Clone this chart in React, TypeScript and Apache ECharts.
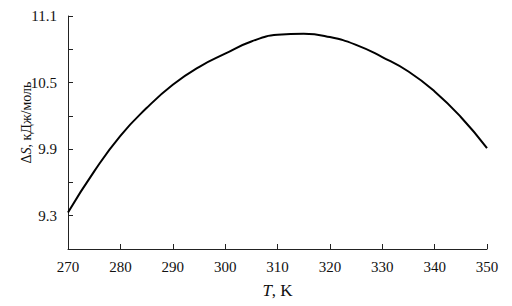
import React, { useEffect, useRef } from "react";
import * as echarts from "echarts";

const temperatures = [270, 275, 280, 285, 290, 295, 300, 305, 310, 315, 320, 325, 330, 335, 340, 345, 350];
const entropyValues = [9.33, 9.70, 10.02, 10.27, 10.48, 10.64, 10.76, 10.87, 10.93, 10.94, 10.91, 10.84, 10.73, 10.60, 10.42, 10.19, 9.91];
const yMin = 9.0;
const yMax = 11.1;
const yStep = 0.3;

export default function App() {
  const ref = useRef<HTMLDivElement>(null);
  useEffect(() => {
    if (!ref.current) return;
    const chart = echarts.init(ref.current, null, { renderer: "svg" });
    const font = "'Liberation Serif', 'Times New Roman', serif";
    chart.setOption({
      animation: false,
      backgroundColor: "#fff",
      grid: { left: 68, right: 25, top: 16, bottom: 57 },
      xAxis: {
        type: "value",
        min: 270,
        max: 350,
        interval: 10,
        name: "{i|T}, K",
        nameLocation: "middle",
        nameGap: 33,
        nameMoveOverlap: false,
        nameTextStyle: {
          fontFamily: font,
          fontSize: 17,
          color: "#111",
          rich: { i: { fontFamily: font, fontSize: 17, fontStyle: "italic", color: "#111" } },
        },
        axisLine: { lineStyle: { color: "#222", width: 1 } },
        axisTick: { inside: true, length: 5, lineStyle: { color: "#222" } },
        axisLabel: { fontFamily: font, fontSize: 15, color: "#111", margin: 10 },
        splitLine: { show: false },
      },
      yAxis: {
        type: "value",
        min: yMin,
        max: yMax,
        interval: yStep,
        name: "Δ{i|S}, кДж/моль",
        nameLocation: "middle",
        nameGap: 35,
        nameMoveOverlap: false,
        nameTextStyle: {
          fontFamily: font,
          fontSize: 14,
          color: "#111",
          padding: [0, 0, 0, 20],
          rich: { i: { fontFamily: font, fontSize: 14, fontStyle: "italic", color: "#111" } },
        },
        axisLine: { show: true, lineStyle: { color: "#222", width: 1 } },
        axisTick: { inside: true, length: 5, lineStyle: { color: "#222" } },
        axisLabel: {
          fontFamily: font,
          fontSize: 15,
          color: "#111",
          margin: 11,
          formatter: (v: number) => {
            const i = Math.round((v - yMin) / yStep);
            return i % 2 === 1 ? v.toFixed(1) : "";
          },
        },
        splitLine: { show: false },
      },
      series: [
        {
          type: "line",
          data: temperatures.map((t, i) => [t, entropyValues[i]]),
          smooth: true,
          showSymbol: false,
          lineStyle: { color: "#000", width: 2 },
        },
      ],
    });
    return () => chart.dispose();
  }, []);
  return <div ref={ref} style={{ width: 512, height: 306, position: "absolute", left: 0, top: 0 }} />;
}
